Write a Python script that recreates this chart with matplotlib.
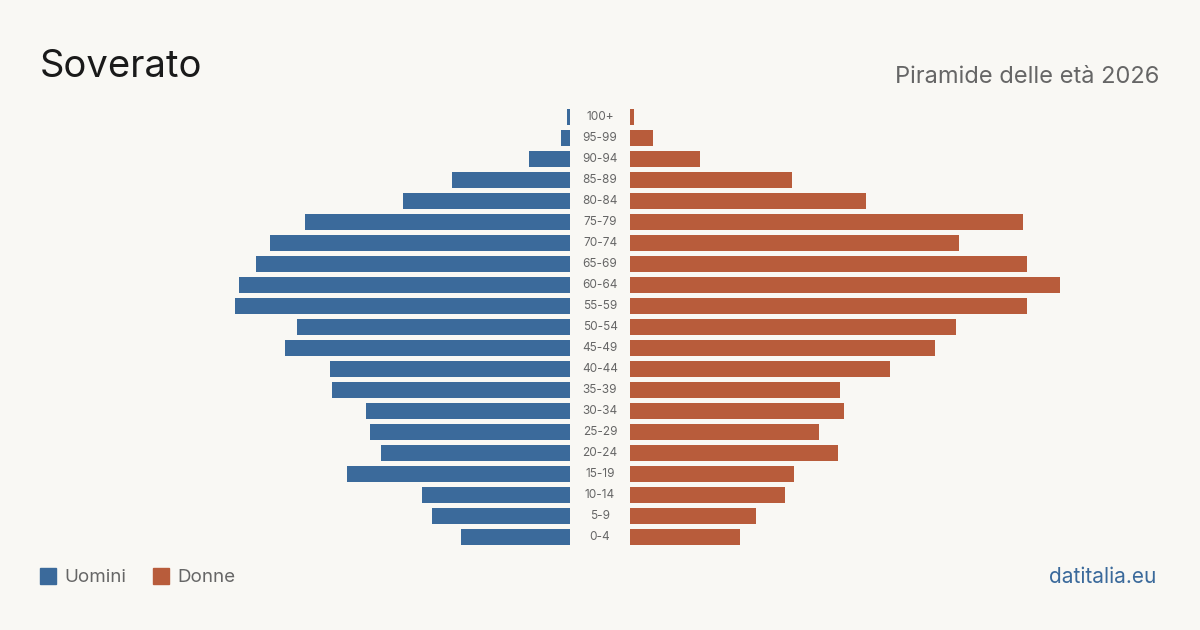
import matplotlib
matplotlib.use("Agg")
import matplotlib.pyplot as plt
from matplotlib.patches import Rectangle

plt.rcParams['font.family'] = ['Inter', 'DejaVu Sans']

# age classes, from youngest to oldest
eta = ['0-4', '5-9', '10-14', '15-19', '20-24', '25-29', '30-34', '35-39', '40-44',
       '45-49', '50-54', '55-59', '60-64', '65-69', '70-74', '75-79', '80-84',
       '85-89', '90-94', '95-99', '100+']
uomini = [109, 138, 148, 223, 189, 200, 204, 238, 240, 285, 273, 335, 331, 314,
          300, 265, 167, 118, 41, 9, 3]
donne = [110, 126, 155, 164, 208, 189, 214, 210, 260, 305, 326, 397, 430, 397,
         329, 393, 236, 162, 70, 23, 4]

blu = '#3b6a9b'
rosso = '#b85c3b'
sfondo = '#f9f8f4'
W, H = 1200, 630

fig = plt.figure(figsize=(12, 6.3), dpi=100, facecolor=sfondo)
y = list(range(len(eta)))
bottom = 1 - 547.5 / H
height = 441 / H

axl = fig.add_axes([200 / W, bottom, 370 / W, height])
axr = fig.add_axes([630 / W, bottom, 470 / W, height])
axl.barh(y, uomini, height=0.8, color=blu)
axr.barh(y, donne, height=0.8, color=rosso)
axl.set_xlim(370, 0)
axr.set_xlim(0, 470)
for ax in (axl, axr):
    ax.set_ylim(-0.5, len(eta) - 0.5)
    ax.axis('off')

# labels in the middle gap
for i, lab in enumerate(eta):
    yy = (bottom * H + (i + 0.5) * 21) / H
    fig.text(600 / W, yy, lab, ha='center', va='center', fontsize=8.5, color='#666666')

fig.text(40 / W, 1 - 67 / H, 'Soverato', fontsize=27.5, color='#1a1a1a', va='center')
fig.text(1159 / W, 1 - 77 / H, 'Piramide delle età 2026', fontsize=17, color='#666666',
         ha='right', va='center')

# legend
fig.add_artist(Rectangle((40 / W, 1 - 584 / H), 16 / W, 16 / H, color=blu,
                         transform=fig.transFigure))
fig.text(64 / W, 1 - 577 / H, 'Uomini', fontsize=13.5, color='#666666', va='center')
fig.add_artist(Rectangle((153 / W, 1 - 584 / H), 16 / W, 16 / H, color=rosso,
                         transform=fig.transFigure))
fig.text(177 / W, 1 - 577 / H, 'Donne', fontsize=13.5, color='#666666', va='center')

fig.text(1156 / W, 1 - 577 / H, 'datitalia.eu', fontsize=15, color=blu,
         ha='right', va='center')

fig.savefig('out.png', dpi=100, facecolor=sfondo)
